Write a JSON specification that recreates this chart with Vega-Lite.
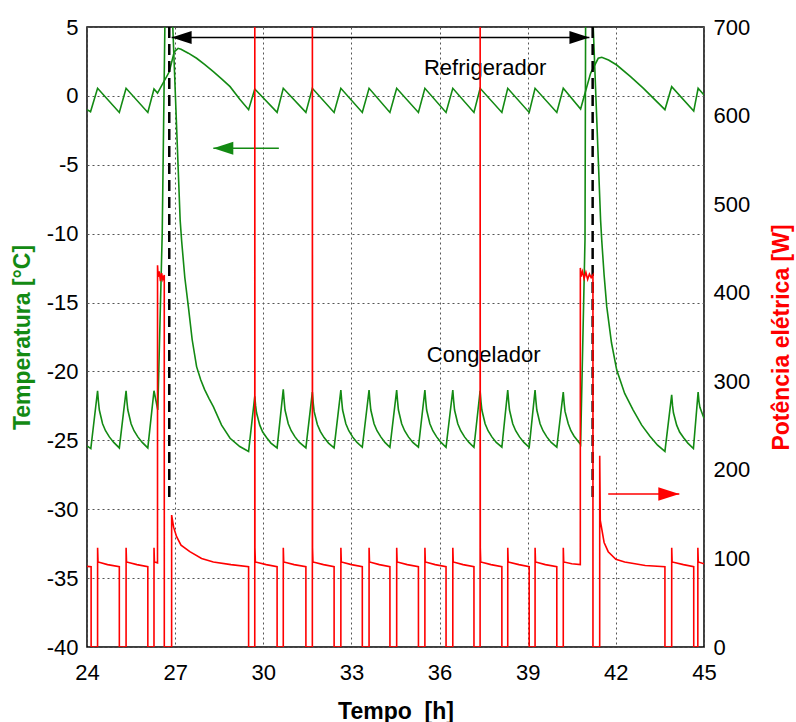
{
  "$schema": "https://vega.github.io/schema/vega-lite/v6.json",
  "width": 617,
  "height": 620,
  "autosize": "none",
  "padding": {"left": 87, "top": 27, "right": 92, "bottom": 75},
  "config": {
    "view": {"stroke": "#000", "strokeWidth": 1.5},
    "font": "Liberation Sans",
    "axis": {"labelFont": "Liberation Sans", "titleFont": "Liberation Sans", "labelFontSize": 22, "titleFontSize": 23, "titleFontWeight": "bold", "labelColor": "#000", "ticks": false, "domain": false, "labelFlush": false, "labelOverlap": false, "gridColor": "#555", "gridDash": [2, 3], "gridWidth": 1, "gridOpacity": 1}
  },
  "datasets": {
    "temp": [
      {"s": "R", "t": 24.0, "T": -1.0}, {"s": "R", "t": 24.12, "T": -1.15}, {"s": "R", "t": 24.36, "T": 0.55}, {"s": "R", "t": 25.1, "T": -1.2}, {"s": "R", "t": 25.33, "T": 0.55}, {"s": "R", "t": 26.07, "T": -1.2}, {"s": "R", "t": 26.28, "T": 0.5}, {"s": "R", "t": 26.4, "T": 0.2}, {"s": "R", "t": 26.8, "T": 1.75}, {"s": "R", "t": 26.97, "T": 3.2}, {"s": "R", "t": 27.1, "T": 3.45}, {"s": "R", "t": 27.2, "T": 3.38}, {"s": "R", "t": 27.45, "T": 3.1}, {"s": "R", "t": 27.73, "T": 2.73}, {"s": "R", "t": 28.0, "T": 2.28}, {"s": "R", "t": 28.3, "T": 1.76}, {"s": "R", "t": 28.6, "T": 1.2}, {"s": "R", "t": 28.87, "T": 0.67}, {"s": "R", "t": 29.2, "T": -0.25}, {"s": "R", "t": 29.5, "T": -1.0}, {"s": "R", "t": 29.71, "T": 0.5}, {"s": "R", "t": 30.47, "T": -1.2}, {"s": "R", "t": 30.68, "T": 0.55}, {"s": "R", "t": 31.45, "T": -1.2}, {"s": "R", "t": 31.67, "T": 0.55}, {"s": "R", "t": 32.41, "T": -1.2}, {"s": "R", "t": 32.64, "T": 0.55}, {"s": "R", "t": 33.37, "T": -1.2}, {"s": "R", "t": 33.6, "T": 0.55}, {"s": "R", "t": 34.31, "T": -1.2}, {"s": "R", "t": 34.54, "T": 0.55}, {"s": "R", "t": 35.28, "T": -1.2}, {"s": "R", "t": 35.5, "T": 0.55}, {"s": "R", "t": 36.22, "T": -1.2}, {"s": "R", "t": 36.45, "T": 0.55}, {"s": "R", "t": 37.17, "T": -1.2}, {"s": "R", "t": 37.38, "T": 0.55}, {"s": "R", "t": 38.12, "T": -1.2}, {"s": "R", "t": 38.32, "T": 0.55}, {"s": "R", "t": 39.05, "T": -1.2}, {"s": "R", "t": 39.25, "T": 0.55}, {"s": "R", "t": 39.99, "T": -1.2}, {"s": "R", "t": 40.21, "T": 0.55}, {"s": "R", "t": 40.8, "T": -0.95}, {"s": "R", "t": 41.14, "T": 1.64}, {"s": "R", "t": 41.4, "T": 2.73}, {"s": "R", "t": 41.52, "T": 2.8}, {"s": "R", "t": 41.75, "T": 2.6}, {"s": "R", "t": 42.03, "T": 2.24}, {"s": "R", "t": 42.5, "T": 1.4}, {"s": "R", "t": 42.94, "T": 0.55}, {"s": "R", "t": 43.67, "T": -1.0}, {"s": "R", "t": 43.9, "T": 0.67}, {"s": "R", "t": 44.65, "T": -1.1}, {"s": "R", "t": 44.8, "T": 0.55}, {"s": "R", "t": 45.0, "T": 0.07},
      {"s": "F", "t": 24.0, "T": -25.4}, {"s": "F", "t": 24.13, "T": -25.6}, {"s": "F", "t": 24.36, "T": -21.4}, {"s": "F", "t": 24.39, "T": -22.2}, {"s": "F", "t": 24.42, "T": -22.8}, {"s": "F", "t": 24.53, "T": -23.8}, {"s": "F", "t": 24.63, "T": -24.3}, {"s": "F", "t": 24.76, "T": -24.75}, {"s": "F", "t": 24.91, "T": -25.15}, {"s": "F", "t": 25.1, "T": -25.55},
      {"s": "F", "t": 25.33, "T": -21.4}, {"s": "F", "t": 25.36, "T": -22.2}, {"s": "F", "t": 25.39, "T": -22.8}, {"s": "F", "t": 25.5, "T": -23.8}, {"s": "F", "t": 25.6, "T": -24.3}, {"s": "F", "t": 25.73, "T": -24.75}, {"s": "F", "t": 25.88, "T": -25.15}, {"s": "F", "t": 26.07, "T": -25.55},
      {"s": "F", "t": 26.28, "T": -21.4}, {"s": "F", "t": 26.41, "T": -22.8}, {"s": "F", "t": 26.56, "T": -10.0}, {"s": "F", "t": 26.65, "T": 5.0}, {"s": "F", "t": 26.78, "T": 12.0}, {"s": "F", "t": 26.92, "T": 5.0}, {"s": "F", "t": 27.17, "T": -9.0}, {"s": "F", "t": 27.22, "T": -10.5}, {"s": "F", "t": 27.33, "T": -13.2}, {"s": "F", "t": 27.45, "T": -15.3}, {"s": "F", "t": 27.58, "T": -17.7}, {"s": "F", "t": 27.73, "T": -19.65}, {"s": "F", "t": 27.87, "T": -20.6}, {"s": "F", "t": 28.0, "T": -21.3}, {"s": "F", "t": 28.15, "T": -21.95}, {"s": "F", "t": 28.3, "T": -22.55}, {"s": "F", "t": 28.58, "T": -23.9}, {"s": "F", "t": 28.87, "T": -24.85}, {"s": "F", "t": 29.2, "T": -25.45}, {"s": "F", "t": 29.5, "T": -25.8},
      {"s": "F", "t": 29.71, "T": -21.8}, {"s": "F", "t": 29.74, "T": -22.5}, {"s": "F", "t": 29.77, "T": -23.0}, {"s": "F", "t": 29.88, "T": -23.9}, {"s": "F", "t": 29.98, "T": -24.4}, {"s": "F", "t": 30.11, "T": -24.8}, {"s": "F", "t": 30.26, "T": -25.2}, {"s": "F", "t": 30.47, "T": -25.55},
      {"s": "F", "t": 30.68, "T": -21.3}, {"s": "F", "t": 30.71, "T": -22.1}, {"s": "F", "t": 30.74, "T": -22.8}, {"s": "F", "t": 30.85, "T": -23.8}, {"s": "F", "t": 30.95, "T": -24.3}, {"s": "F", "t": 31.08, "T": -24.75}, {"s": "F", "t": 31.23, "T": -25.15}, {"s": "F", "t": 31.45, "T": -25.55},
      {"s": "F", "t": 31.67, "T": -21.5}, {"s": "F", "t": 31.7, "T": -22.3}, {"s": "F", "t": 31.73, "T": -22.9}, {"s": "F", "t": 31.84, "T": -23.85}, {"s": "F", "t": 31.94, "T": -24.35}, {"s": "F", "t": 32.07, "T": -24.8}, {"s": "F", "t": 32.22, "T": -25.2}, {"s": "F", "t": 32.41, "T": -25.55},
      {"s": "F", "t": 32.64, "T": -21.35}, {"s": "F", "t": 32.67, "T": -22.15}, {"s": "F", "t": 32.7, "T": -22.8}, {"s": "F", "t": 32.81, "T": -23.8}, {"s": "F", "t": 32.91, "T": -24.3}, {"s": "F", "t": 33.04, "T": -24.75}, {"s": "F", "t": 33.19, "T": -25.15}, {"s": "F", "t": 33.37, "T": -25.5},
      {"s": "F", "t": 33.6, "T": -21.35}, {"s": "F", "t": 33.63, "T": -22.15}, {"s": "F", "t": 33.66, "T": -22.8}, {"s": "F", "t": 33.77, "T": -23.8}, {"s": "F", "t": 33.87, "T": -24.3}, {"s": "F", "t": 34.0, "T": -24.75}, {"s": "F", "t": 34.14, "T": -25.15}, {"s": "F", "t": 34.31, "T": -25.5},
      {"s": "F", "t": 34.54, "T": -21.35}, {"s": "F", "t": 34.57, "T": -22.15}, {"s": "F", "t": 34.6, "T": -22.8}, {"s": "F", "t": 34.71, "T": -23.8}, {"s": "F", "t": 34.81, "T": -24.3}, {"s": "F", "t": 34.94, "T": -24.75}, {"s": "F", "t": 35.09, "T": -25.15}, {"s": "F", "t": 35.28, "T": -25.5},
      {"s": "F", "t": 35.5, "T": -21.35}, {"s": "F", "t": 35.53, "T": -22.15}, {"s": "F", "t": 35.56, "T": -22.8}, {"s": "F", "t": 35.67, "T": -23.8}, {"s": "F", "t": 35.77, "T": -24.3}, {"s": "F", "t": 35.9, "T": -24.75}, {"s": "F", "t": 36.05, "T": -25.15}, {"s": "F", "t": 36.22, "T": -25.5},
      {"s": "F", "t": 36.45, "T": -21.35}, {"s": "F", "t": 36.48, "T": -22.15}, {"s": "F", "t": 36.51, "T": -22.8}, {"s": "F", "t": 36.62, "T": -23.8}, {"s": "F", "t": 36.72, "T": -24.3}, {"s": "F", "t": 36.85, "T": -24.75}, {"s": "F", "t": 37.0, "T": -25.15}, {"s": "F", "t": 37.17, "T": -25.5},
      {"s": "F", "t": 37.38, "T": -21.4}, {"s": "F", "t": 37.41, "T": -22.2}, {"s": "F", "t": 37.44, "T": -22.8}, {"s": "F", "t": 37.55, "T": -23.8}, {"s": "F", "t": 37.65, "T": -24.3}, {"s": "F", "t": 37.78, "T": -24.75}, {"s": "F", "t": 37.93, "T": -25.15}, {"s": "F", "t": 38.12, "T": -25.5},
      {"s": "F", "t": 38.32, "T": -21.35}, {"s": "F", "t": 38.35, "T": -22.15}, {"s": "F", "t": 38.38, "T": -22.8}, {"s": "F", "t": 38.49, "T": -23.8}, {"s": "F", "t": 38.59, "T": -24.3}, {"s": "F", "t": 38.72, "T": -24.75}, {"s": "F", "t": 38.87, "T": -25.15}, {"s": "F", "t": 39.05, "T": -25.5},
      {"s": "F", "t": 39.25, "T": -21.35}, {"s": "F", "t": 39.28, "T": -22.15}, {"s": "F", "t": 39.31, "T": -22.8}, {"s": "F", "t": 39.42, "T": -23.8}, {"s": "F", "t": 39.52, "T": -24.3}, {"s": "F", "t": 39.65, "T": -24.75}, {"s": "F", "t": 39.8, "T": -25.15}, {"s": "F", "t": 39.99, "T": -25.5},
      {"s": "F", "t": 40.21, "T": -21.5}, {"s": "F", "t": 40.24, "T": -22.3}, {"s": "F", "t": 40.27, "T": -22.9}, {"s": "F", "t": 40.38, "T": -23.8}, {"s": "F", "t": 40.47, "T": -24.3}, {"s": "F", "t": 40.58, "T": -24.7}, {"s": "F", "t": 40.8, "T": -25.3},
      {"s": "F", "t": 40.95, "T": -10.4}, {"s": "F", "t": 40.97, "T": 5.0}, {"s": "F", "t": 41.1, "T": 12.0}, {"s": "F", "t": 41.23, "T": 5.0}, {"s": "F", "t": 41.48, "T": -9.0}, {"s": "F", "t": 41.52, "T": -10.5}, {"s": "F", "t": 41.6, "T": -13.0}, {"s": "F", "t": 41.69, "T": -15.3}, {"s": "F", "t": 41.85, "T": -17.9}, {"s": "F", "t": 42.03, "T": -19.9}, {"s": "F", "t": 42.3, "T": -21.6}, {"s": "F", "t": 42.59, "T": -22.8}, {"s": "F", "t": 42.88, "T": -23.9}, {"s": "F", "t": 43.16, "T": -24.7}, {"s": "F", "t": 43.42, "T": -25.35}, {"s": "F", "t": 43.67, "T": -25.8},
      {"s": "F", "t": 43.9, "T": -21.7}, {"s": "F", "t": 43.93, "T": -22.5}, {"s": "F", "t": 43.96, "T": -23.0}, {"s": "F", "t": 44.07, "T": -23.9}, {"s": "F", "t": 44.17, "T": -24.4}, {"s": "F", "t": 44.3, "T": -24.8}, {"s": "F", "t": 44.45, "T": -25.2}, {"s": "F", "t": 44.64, "T": -25.6},
      {"s": "F", "t": 44.8, "T": -21.5}, {"s": "F", "t": 44.83, "T": -22.2}, {"s": "F", "t": 44.86, "T": -22.6}, {"s": "F", "t": 45.0, "T": -23.4}
    ],
    "power": [
      {"t": 24.0, "P": 91}, {"t": 24.14, "P": 90.6}, {"t": 24.141, "P": 0}, {"t": 24.36, "P": 0}, {"t": 24.361, "P": 112}, {"t": 24.375, "P": 96}, {"t": 24.7, "P": 93}, {"t": 25.1, "P": 90.6}, {"t": 25.101, "P": 0},
      {"t": 25.33, "P": 0}, {"t": 25.331, "P": 112}, {"t": 25.345, "P": 96}, {"t": 25.7, "P": 93}, {"t": 26.07, "P": 90.6}, {"t": 26.071, "P": 0},
      {"t": 26.28, "P": 0}, {"t": 26.281, "P": 112}, {"t": 26.295, "P": 96}, {"t": 26.4, "P": 95}, {"t": 26.401, "P": 431}, {"t": 26.42, "P": 418}, {"t": 26.46, "P": 424}, {"t": 26.5, "P": 413}, {"t": 26.54, "P": 422}, {"t": 26.58, "P": 415}, {"t": 26.63, "P": 420}, {"t": 26.631, "P": 0},
      {"t": 26.88, "P": 0}, {"t": 26.881, "P": 149}, {"t": 26.95, "P": 135}, {"t": 27.05, "P": 124.5}, {"t": 27.2, "P": 115}, {"t": 27.5, "P": 107.6}, {"t": 27.9, "P": 100}, {"t": 28.3, "P": 96}, {"t": 28.9, "P": 93}, {"t": 29.5, "P": 90.6}, {"t": 29.501, "P": 0},
      {"t": 29.71, "P": 0}, {"t": 29.711, "P": 760}, {"t": 29.716, "P": 112}, {"t": 29.73, "P": 96}, {"t": 30.1, "P": 93}, {"t": 30.47, "P": 90.6}, {"t": 30.471, "P": 0},
      {"t": 30.68, "P": 0}, {"t": 30.681, "P": 112}, {"t": 30.695, "P": 96}, {"t": 31.05, "P": 93}, {"t": 31.45, "P": 90.6}, {"t": 31.451, "P": 0},
      {"t": 31.67, "P": 0}, {"t": 31.671, "P": 760}, {"t": 31.676, "P": 112}, {"t": 31.69, "P": 96}, {"t": 32.05, "P": 93}, {"t": 32.41, "P": 90.6}, {"t": 32.411, "P": 0},
      {"t": 32.64, "P": 0}, {"t": 32.641, "P": 112}, {"t": 32.655, "P": 96}, {"t": 33.0, "P": 93}, {"t": 33.37, "P": 90.6}, {"t": 33.371, "P": 0},
      {"t": 33.6, "P": 0}, {"t": 33.601, "P": 112}, {"t": 33.615, "P": 96}, {"t": 33.95, "P": 93}, {"t": 34.31, "P": 90.6}, {"t": 34.311, "P": 0},
      {"t": 34.54, "P": 0}, {"t": 34.541, "P": 112}, {"t": 34.555, "P": 96}, {"t": 34.9, "P": 93}, {"t": 35.28, "P": 90.6}, {"t": 35.281, "P": 0},
      {"t": 35.5, "P": 0}, {"t": 35.501, "P": 112}, {"t": 35.515, "P": 96}, {"t": 35.85, "P": 93}, {"t": 36.22, "P": 90.6}, {"t": 36.221, "P": 0},
      {"t": 36.45, "P": 0}, {"t": 36.451, "P": 112}, {"t": 36.465, "P": 96}, {"t": 36.8, "P": 93}, {"t": 37.17, "P": 90.6}, {"t": 37.171, "P": 0},
      {"t": 37.38, "P": 0}, {"t": 37.381, "P": 760}, {"t": 37.386, "P": 112}, {"t": 37.4, "P": 96}, {"t": 37.75, "P": 93}, {"t": 38.12, "P": 90.6}, {"t": 38.121, "P": 0},
      {"t": 38.32, "P": 0}, {"t": 38.321, "P": 112}, {"t": 38.335, "P": 96}, {"t": 38.7, "P": 93}, {"t": 39.05, "P": 90.6}, {"t": 39.051, "P": 0},
      {"t": 39.25, "P": 0}, {"t": 39.251, "P": 112}, {"t": 39.265, "P": 96}, {"t": 39.6, "P": 93}, {"t": 39.99, "P": 90.6}, {"t": 39.991, "P": 0},
      {"t": 40.21, "P": 0}, {"t": 40.211, "P": 112}, {"t": 40.225, "P": 96}, {"t": 40.5, "P": 94}, {"t": 40.79, "P": 93}, {"t": 40.791, "P": 428}, {"t": 40.81, "P": 418}, {"t": 40.86, "P": 424}, {"t": 40.92, "P": 416}, {"t": 40.98, "P": 423}, {"t": 41.04, "P": 415}, {"t": 41.1, "P": 421}, {"t": 41.16, "P": 417}, {"t": 41.22, "P": 420}, {"t": 41.221, "P": 0},
      {"t": 41.45, "P": 0}, {"t": 41.451, "P": 216}, {"t": 41.47, "P": 143}, {"t": 41.6, "P": 118}, {"t": 41.74, "P": 107.6}, {"t": 42.0, "P": 99}, {"t": 42.3, "P": 96}, {"t": 43.0, "P": 92}, {"t": 43.67, "P": 90.6}, {"t": 43.671, "P": 0},
      {"t": 43.9, "P": 0}, {"t": 43.901, "P": 112}, {"t": 43.915, "P": 96}, {"t": 44.3, "P": 93}, {"t": 44.65, "P": 90.6}, {"t": 44.651, "P": 0},
      {"t": 44.79, "P": 0}, {"t": 44.791, "P": 112}, {"t": 44.805, "P": 96}, {"t": 45.0, "P": 94}
    ],
    "dashes": [{"t": 26.8, "T": 5, "T2": -29.4}, {"t": 41.21, "T": 5, "T2": -29.3}],
    "blackArrow": [{"t": 26.88, "t2": 41.1, "T": 4.24}],
    "blackHeadL": [{"t": 26.88, "T": 4.24}],
    "blackHeadR": [{"t": 41.1, "T": 4.24}],
    "greenArrow": [{"t": 28.3, "t2": 30.53, "T": -3.8}],
    "greenHead": [{"t": 28.3, "T": -3.8}],
    "redArrow": [{"t": 41.74, "t2": 44.16, "P": 172.7}],
    "redHead": [{"t": 44.16, "P": 172.7}],
    "labels": [{"t": 37.55, "T": 2.0, "label": "Refrigerador"}, {"t": 37.5, "T": -18.8, "label": "Congelador"}]
  },
  "layer": [
    {
      "layer": [
        {
          "data": {"name": "temp"},
          "mark": {"type": "line", "clip": true, "strokeWidth": 1.6, "color": "#138a13"},
          "encoding": {
            "x": {"field": "t", "type": "quantitative", "title": "Tempo\u00a0\u00a0[h]", "scale": {"domain": [24, 45], "nice": false, "zero": false},
                  "axis": {"values": [24, 27, 30, 33, 36, 39, 42, 45], "grid": true, "labelPadding": 15, "titlePadding": 17, "titleColor": "#000"}},
            "y": {"field": "T", "type": "quantitative", "title": "Temperatura [°C]", "scale": {"domain": [-40, 5], "nice": false, "zero": false},
                  "axis": {"orient": "left", "values": [-40, -35, -30, -25, -20, -15, -10, -5, 0, 5], "grid": true, "labelExpr": "'' + datum.value", "labelPadding": 9, "titlePadding": 12, "titleColor": "#138a13"}},
            "detail": {"field": "s", "type": "nominal"}
          }
        },
        {
          "data": {"name": "dashes"},
          "mark": {"type": "rule", "color": "#000", "strokeWidth": 2.5, "strokeDash": [11, 6]},
          "encoding": {
            "x": {"field": "t", "type": "quantitative", "title": "Tempo\u00a0\u00a0[h]"},
            "y": {"field": "T", "type": "quantitative", "title": "Temperatura [°C]"},
            "y2": {"field": "T2"}
          }
        },
        {
          "data": {"name": "blackArrow"},
          "mark": {"type": "rule", "color": "#000", "strokeWidth": 1.6},
          "encoding": {
            "x": {"field": "t", "type": "quantitative", "title": "Tempo\u00a0\u00a0[h]"},
            "x2": {"field": "t2"},
            "y": {"field": "T", "type": "quantitative", "title": "Temperatura [°C]"}
          }
        },
        {
          "data": {"name": "blackHeadL"},
          "mark": {"type": "point", "shape": "M0,0L2,-0.65L2,0.65Z", "size": 400, "filled": true, "color": "#000", "opacity": 1, "strokeWidth": 0},
          "encoding": {
            "x": {"field": "t", "type": "quantitative", "title": "Tempo\u00a0\u00a0[h]"},
            "y": {"field": "T", "type": "quantitative", "title": "Temperatura [°C]"}
          }
        },
        {
          "data": {"name": "blackHeadR"},
          "mark": {"type": "point", "shape": "M0,0L-2,-0.65L-2,0.65Z", "size": 400, "filled": true, "color": "#000", "opacity": 1, "strokeWidth": 0},
          "encoding": {
            "x": {"field": "t", "type": "quantitative", "title": "Tempo\u00a0\u00a0[h]"},
            "y": {"field": "T", "type": "quantitative", "title": "Temperatura [°C]"}
          }
        },
        {
          "data": {"name": "greenArrow"},
          "mark": {"type": "rule", "color": "#138a13", "strokeWidth": 1.6},
          "encoding": {
            "x": {"field": "t", "type": "quantitative", "title": "Tempo\u00a0\u00a0[h]"},
            "x2": {"field": "t2"},
            "y": {"field": "T", "type": "quantitative", "title": "Temperatura [°C]"}
          }
        },
        {
          "data": {"name": "greenHead"},
          "mark": {"type": "point", "shape": "M0,0L2,-0.65L2,0.65Z", "size": 400, "filled": true, "color": "#138a13", "opacity": 1, "strokeWidth": 0},
          "encoding": {
            "x": {"field": "t", "type": "quantitative", "title": "Tempo\u00a0\u00a0[h]"},
            "y": {"field": "T", "type": "quantitative", "title": "Temperatura [°C]"}
          }
        },
        {
          "data": {"name": "labels"},
          "mark": {"type": "text", "fontSize": 22, "font": "Liberation Sans", "color": "#000", "align": "center", "baseline": "middle"},
          "encoding": {
            "x": {"field": "t", "type": "quantitative", "title": "Tempo\u00a0\u00a0[h]"},
            "y": {"field": "T", "type": "quantitative", "title": "Temperatura [°C]"},
            "text": {"field": "label", "type": "nominal"}
          }
        }
      ]
    },
    {
      "layer": [
        {
          "data": {"name": "power"},
          "mark": {"type": "line", "clip": true, "strokeWidth": 1.6, "color": "#ff0000"},
          "encoding": {
            "x": {"field": "t", "type": "quantitative", "title": "Tempo\u00a0\u00a0[h]"},
            "y": {"field": "P", "type": "quantitative", "title": "Potência elétrica [W]", "scale": {"domain": [0, 700], "nice": false, "zero": false},
                  "axis": {"orient": "right", "values": [0, 100, 200, 300, 400, 500, 600, 700], "grid": false, "labelPadding": 9, "titlePadding": 21, "titleColor": "#ff0000", "titleAngle": 270, "titleBaseline": "top"}}
          }
        },
        {
          "data": {"name": "redArrow"},
          "mark": {"type": "rule", "color": "#ff0000", "strokeWidth": 1.6},
          "encoding": {
            "x": {"field": "t", "type": "quantitative", "title": "Tempo\u00a0\u00a0[h]"},
            "x2": {"field": "t2"},
            "y": {"field": "P", "type": "quantitative", "title": "Potência elétrica [W]"}
          }
        },
        {
          "data": {"name": "redHead"},
          "mark": {"type": "point", "shape": "M0,0L-2,-0.65L-2,0.65Z", "size": 441, "filled": true, "color": "#ff0000", "opacity": 1, "strokeWidth": 0},
          "encoding": {
            "x": {"field": "t", "type": "quantitative", "title": "Tempo\u00a0\u00a0[h]"},
            "y": {"field": "P", "type": "quantitative", "title": "Potência elétrica [W]"}
          }
        }
      ]
    }
  ],
  "resolve": {"scale": {"y": "independent"}}
}
